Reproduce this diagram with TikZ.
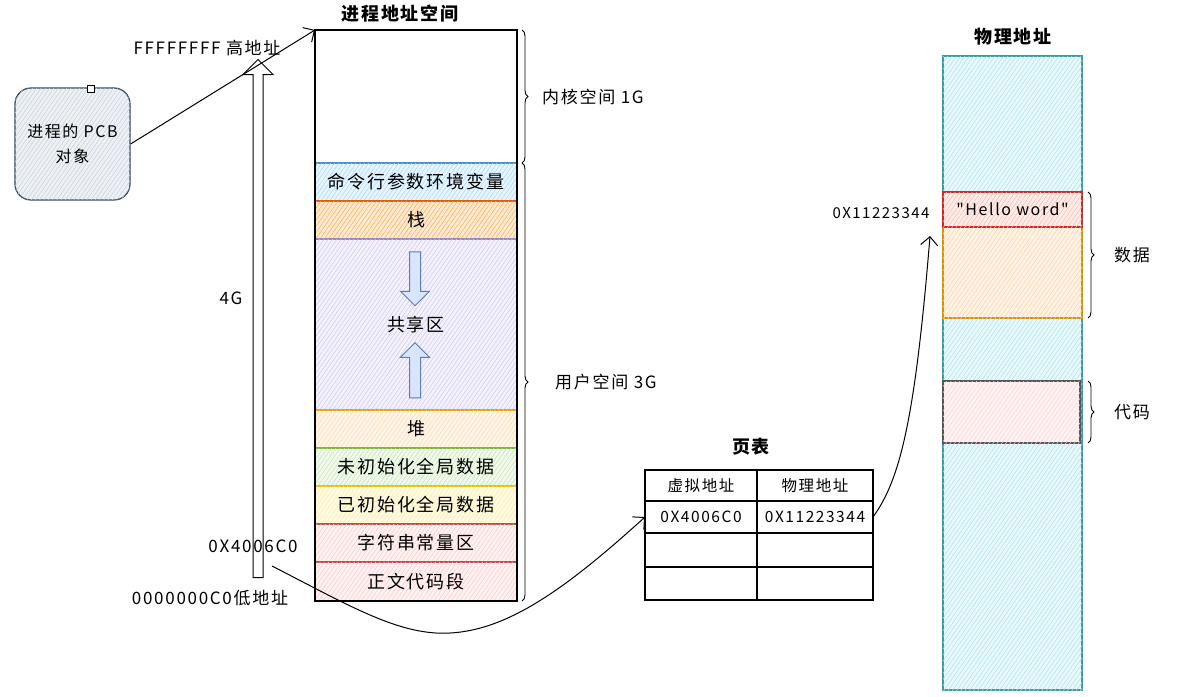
\documentclass[tikz,border=0pt]{standalone}
\usepackage{fontspec}
\usepackage{tikz}
\usetikzlibrary{arrows.meta,positioning,shapes.arrows,patterns.meta,decorations.pathreplacing}
\newfontfamily\cjk[LetterSpace=10]{Noto Sans CJK SC}

% stroke / hatch colours
\definecolor{cmdline}{HTML}{4A8FC7}\definecolor{cmdhatch}{HTML}{A5D8FF}
\definecolor{stkline}{HTML}{E8590C}\definecolor{stkhatch}{HTML}{FFA94D}
\definecolor{shrline}{HTML}{9C88C4}\definecolor{shrhatch}{HTML}{D0C8F0}
\definecolor{heapline}{HTML}{E8A400}\definecolor{heaphatch}{HTML}{FFD8A8}
\definecolor{bssline}{HTML}{7DB544}\definecolor{bsshatch}{HTML}{C3E6B0}
\definecolor{dataline}{HTML}{E6C200}\definecolor{datahatch}{HTML}{FFEC99}
\definecolor{strline}{HTML}{C0504D}\definecolor{strhatch}{HTML}{FFC9C9}
\definecolor{physline}{HTML}{3F9AA0}\definecolor{physhatch}{HTML}{A8E4EC}
\definecolor{pdline}{HTML}{D4930D}\definecolor{pdhatch}{HTML}{FFD0A0}
\definecolor{helloline}{HTML}{C92A2A}\definecolor{hellohatch}{HTML}{FFB8A8}
\definecolor{codeline}{HTML}{555555}\definecolor{codehatch}{HTML}{FFD0D0}
\definecolor{pcbline}{HTML}{34495E}\definecolor{pcbhatch}{HTML}{C5D0DC}
\definecolor{shline}{HTML}{5B7DB1}\definecolor{shfill}{HTML}{DBE4FF}

\begin{document}
\begin{tikzpicture}[x=1pt,y=-1pt,>={Straight Barb[length=3mm]},font=\cjk,
  seg/.style n args={2}{draw=#1,fill=#2!25,line width=1.1pt,minimum width=202pt,inner sep=0pt,outer sep=0pt,
    font=\cjk\fontsize{18}{21}\selectfont,
    postaction={pattern={Lines[angle=55,distance=3.5pt,line width=0.5pt]},pattern color=#2}},
  ttl/.style={font=\cjk\bfseries\fontsize{18}{21}\selectfont},
  lbl/.style={font=\cjk\fontsize{17}{20}\selectfont,inner sep=1pt},
  cell/.style={draw,line width=1.1pt,minimum width=112pt,inner sep=0pt,outer sep=0pt,font=\cjk\fontsize{15.5}{18}\selectfont},
  hollow/.style={single arrow,draw,line width=1pt,fill=white,inner xsep=0pt,single arrow head indent=0pt},
  curly/.style={decorate,decoration={brace,amplitude=6pt},line width=0.9pt}]
\useasboundingbox (0,0) rectangle (1185,696);

% process address space
\node[ttl] (t_vas) at (400,14) {进程地址空间};
\node[draw,line width=1.1pt,minimum width=202pt,minimum height=133pt,inner sep=0pt,outer sep=0pt,anchor=north west] (s_kern) at (315,30) {};
\node[seg={cmdline}{cmdhatch},minimum height=38pt,below=0pt of s_kern] (s_cmd) {命令行参数环境变量};
\node[seg={stkline}{stkhatch},minimum height=38pt,below=0pt of s_cmd] (s_stack) {栈};
\node[seg={shrline}{shrhatch},minimum height=171pt,below=0pt of s_stack] (s_share) {共享区};
\node[seg={heapline}{heaphatch},minimum height=38pt,below=0pt of s_share] (s_heap) {堆};
\node[seg={bssline}{bsshatch},minimum height=38pt,below=0pt of s_heap] (s_bss) {未初始化全局数据};
\node[seg={dataline}{datahatch},minimum height=38pt,below=0pt of s_bss] (s_data) {已初始化全局数据};
\node[seg={strline}{strhatch},minimum height=38pt,below=0pt of s_data] (s_str) {字符串常量区};
\node[seg={strline}{strhatch},minimum height=39pt,below=0pt of s_str] (s_text) {正文代码段};
\draw[line width=1.1pt] (s_kern.north west) rectangle (s_text.south east);
\node[hollow,draw=shline,fill=shfill,minimum height=54pt,single arrow head extend=9pt,inner ysep=5pt,rotate=-90] (a_down) at (415,276) {};
\node[hollow,draw=shline,fill=shfill,minimum height=55pt,single arrow head extend=9pt,inner ysep=5pt,rotate=90] (a_up) at (415,373) {};

\draw[curly] ([xshift=5pt]s_kern.north east) -- ([xshift=5pt]s_kern.south east);
\draw[curly] ([xshift=5pt]s_cmd.north east) -- ([xshift=5pt]s_text.south east);
\node[lbl,anchor=west] (l_kern) at (541,97) {内核空间 1G};
\node[lbl,anchor=west] (l_user) at (554,382) {用户空间 3G};

% 4G arrow and addresses
\node[hollow,minimum height=518pt,single arrow head extend=10pt,inner ysep=4.5pt,rotate=90] (up4g) at (258,321) {};
\node[lbl] (l_hi) at (207,48) {FFFFFFFF 高地址};
\node[lbl] (l_4g) at (231,298) {4G};
\node[lbl] (l_addr) at (253,546) {0X4006C0};
\node[lbl] (l_lo) at (210,598) {0000000C0低地址};
\coordinate (c_from) at (272,566);

% PCB
\node[draw=pcbline,fill=pcbhatch!30,rounded corners=16pt,line width=1.2pt,minimum width=115pt,minimum height=112pt,align=center,
  font=\cjk\fontsize{16}{25}\selectfont,postaction={pattern={Lines[angle=55,distance=3.5pt,line width=0.5pt]},pattern color=pcbhatch}] (pcb) at (72.5,144) {进程的 PCB\\对象};
\node[draw,fill=white,minimum size=7pt,inner sep=0pt,line width=0.6pt] (pcb_pin) at (91,89) {};
\draw[->,line width=1pt] (pcb.east) -- (s_kern.north west);

% page table
\node[ttl] (t_pt) at (751,447) {页表};
\node[cell,minimum height=31pt,anchor=north west] (pt_va) at (645,470) {虚拟地址};
\node[cell,minimum width=116pt,minimum height=31pt,right=0pt of pt_va] (pt_pa) {物理地址};
\node[cell,minimum height=32pt,below=0pt of pt_va] (pt_v1) {0X4006C0};
\node[cell,minimum width=116pt,minimum height=32pt,below=0pt of pt_pa] (pt_p1) {0X11223344};
\node[cell,minimum height=34pt,below=0pt of pt_v1] (pt_v2) {};
\node[cell,minimum width=116pt,minimum height=34pt,below=0pt of pt_p1] (pt_p2) {};
\node[cell,minimum height=33pt,below=0pt of pt_v2] (pt_v3) {};
\node[cell,minimum width=116pt,minimum height=33pt,below=0pt of pt_p2] (pt_p3) {};
\draw[->,line width=1pt] (c_from) .. controls (350,606) and (400,636) .. (450,633) .. controls (510,630) and (570,585) .. (pt_v1.west);

% physical memory
\node[ttl] (t_phys) at (1013,37) {物理地址};
\node[seg={physline}{physhatch},minimum width=139pt,minimum height=634pt,anchor=north west] (phys) at (943,56) {};
\node[seg={pdline}{pdhatch},minimum width=139pt,minimum height=126pt,anchor=north west] (p_data) at (943,192) {};
\node[seg={helloline}{hellohatch},minimum width=139pt,minimum height=35pt,anchor=north west,font=\cjk\fontsize{16}{19}\selectfont] (p_hello) at (943,192) {"Hello word"};
\node[seg={codeline}{codehatch},minimum width=137pt,minimum height=62pt,anchor=north west] (p_code) at (943,381) {};
\draw[curly] ([xshift=6pt]p_data.north east) -- ([xshift=6pt]p_data.south east);
\draw[curly] ([xshift=8pt]p_code.north east) -- ([xshift=8pt]p_code.south east);
\node[lbl] (l_data) at (1132,255) {数据};
\node[lbl] (l_code) at (1132,412) {代码};
\node[lbl,font=\cjk\fontsize{15}{18}\selectfont] (l_phys) at (881,213) {0X11223344};
\coordinate (c_phys) at (930,236);
\draw[->,line width=1pt] (pt_p1.east) .. controls (900,480) and (915,420) .. (c_phys);
\end{tikzpicture}
\end{document}
